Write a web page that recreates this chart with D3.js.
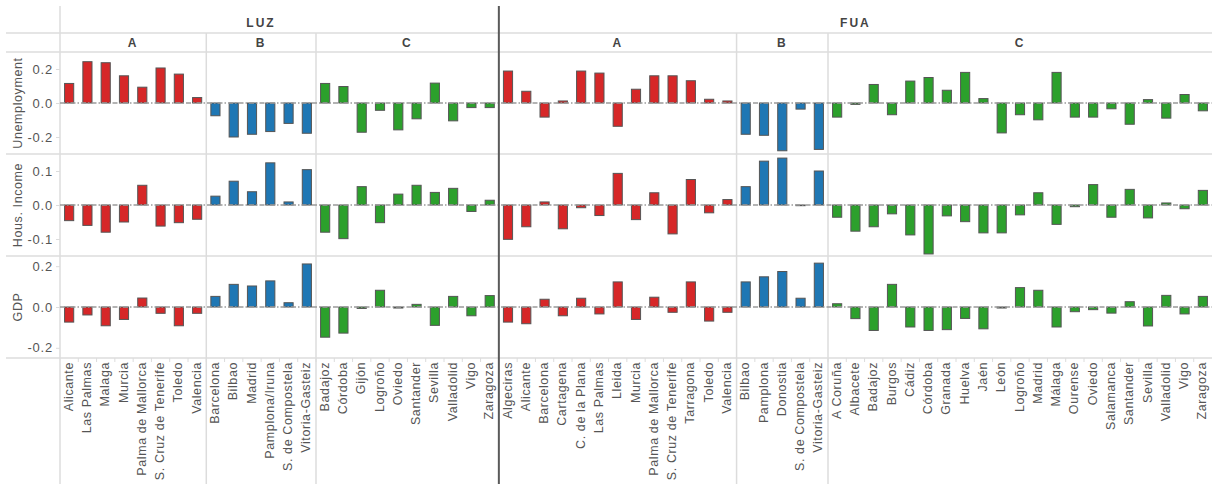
<!DOCTYPE html>
<html><head><meta charset="utf-8">
<script src="https://cdn.jsdelivr.net/npm/d3@7"></script>
<style>body{margin:0;background:#fff}svg{display:block}</style>
</head><body><svg id="chart" width="1212" height="484"></svg>
<script>
// ---------- DATA ----------
const levels = ["LUZ", "FUA"];
const groups = ["A", "B", "C"];
const indicators = ["Unemployment", "Hous. Income", "GDP"];

const luzA = ["Alicante","Las Palmas","Malaga","Murcia","Palma de Mallorca","S. Cruz de Tenerife","Toledo","Valencia"];
const luzB = ["Barcelona","Bilbao","Madrid","Pamplona/Iruna","S. de Compostela","Vitoria-Gasteiz"];
const luzC = ["Badajoz","Córdoba","Gijón","Logroño","Oviedo","Santander","Sevilla","Valladolid","Vigo","Zaragoza"];
const fuaA = ["Algeciras","Alicante","Barcelona","Cartagena","C. de la Plana","Las Palmas","Lleida","Murcia","Palma de Mallorca","S. Cruz de Tenerife","Tarragona","Toledo","Valencia"];
const fuaB = ["Bilbao","Pamplona","Donostia","S. de Compostela","Vitoria-Gasteiz"];
const fuaC = ["A Coruña","Albacete","Badajoz","Burgos","Cádiz","Córdoba","Granada","Huelva","Jaén","León","Logroño","Madrid","Málaga","Ourense","Oviedo","Salamanca","Santander","Sevilla","Valladolid","Vigo","Zaragoza"];

const unemploymentLUZ = [0.115,0.243,0.237,0.16,0.093,0.206,0.17,0.032,
  -0.075,-0.2,-0.184,-0.168,-0.12,-0.178,
  0.115,0.097,-0.172,-0.043,-0.158,-0.093,0.117,-0.105,-0.027,-0.027];
const unemploymentFUA = [0.188,0.069,-0.083,0.012,0.188,0.176,-0.137,0.081,0.16,0.16,0.131,0.022,0.012,
  -0.184,-0.19,-0.281,-0.036,-0.273,
  -0.083,-0.008,0.109,-0.069,0.129,0.15,0.075,0.18,0.026,-0.176,-0.069,-0.099,0.18,-0.083,-0.083,-0.034,-0.125,0.02,-0.089,0.05,-0.046];

const incomeLUZ = [-0.046,-0.06,-0.08,-0.05,0.058,-0.062,-0.052,-0.042,
  0.026,0.07,0.039,0.124,0.009,0.104,
  -0.08,-0.099,0.054,-0.052,0.032,0.058,0.037,0.049,-0.019,0.014];
const incomeFUA = [-0.101,-0.064,0.009,-0.07,-0.008,-0.031,0.093,-0.043,0.036,-0.085,0.075,-0.023,0.016,
  0.054,0.129,0.138,-0.002,0.1,
  -0.036,-0.077,-0.064,-0.026,-0.088,-0.144,-0.032,-0.049,-0.082,-0.082,-0.029,0.036,-0.057,-0.005,0.06,-0.036,0.046,-0.038,0.006,-0.011,0.043];

const gdpLUZ = [-0.074,-0.039,-0.092,-0.061,0.044,-0.031,-0.092,-0.031,
  0.052,0.111,0.103,0.128,0.021,0.211,
  -0.148,-0.128,-0.007,0.082,-0.005,0.013,-0.09,0.052,-0.043,0.056];
const gdpFUA = [-0.074,-0.082,0.038,-0.043,0.043,-0.034,0.123,-0.061,0.048,-0.026,0.123,-0.069,-0.026,
  0.123,0.148,0.174,0.043,0.215,
  0.016,-0.057,-0.115,0.111,-0.098,-0.115,-0.111,-0.056,-0.107,-0.005,0.095,0.082,-0.098,-0.023,-0.013,-0.03,0.026,-0.093,0.057,-0.034,0.052];

const unemploymentTicks = [-0.2, 0.0, 0.2];
const incomeTicks = [-0.1, 0.0, 0.1];
const gdpTicks = [-0.2, 0.0, 0.2];
const unemploymentDomain = [-0.3, 0.3];
const incomeDomain = [-0.15, 0.15];
const gdpDomain = [-0.25, 0.25];

const groupColors = {A: "#d62728", B: "#1f77b4", C: "#2ca02c"};

// ---------- BUILD ----------
const cityLists = {LUZ: [luzA, luzB, luzC], FUA: [fuaA, fuaB, fuaC]};
const valueLists = [
  {LUZ: unemploymentLUZ, FUA: unemploymentFUA},
  {LUZ: incomeLUZ, FUA: incomeFUA},
  {LUZ: gdpLUZ, FUA: gdpFUA}
];
const tickLists = [unemploymentTicks, incomeTicks, gdpTicks];
const domainLists = [unemploymentDomain, incomeDomain, gdpDomain];

const cats = [];
levels.forEach(lv => {
  let k = 0;
  cityLists[lv].forEach((list, gi) => {
    list.forEach(city => {
      cats.push({key: lv + "|" + groups[gi] + "|" + city, level: lv, group: groups[gi], city, idx: k++});
    });
  });
});

// ---------- LAYOUT ----------
const W = 1212, H = 484;
const plotL = 60, plotR = 1212;
const leftEdge = 6, topEdge = 6;
const levelLineY = 33, groupLineY = 52;
const rowH = 102;
const rowTops = [52, 154, 256];
const plotBottom = rowTops[2] + rowH;
const FONT = "'Liberation Sans', Arial, Helvetica, sans-serif";
const gridCol = "#dcdcdc";

const svg = d3.select("#chart");
svg.append("rect").attr("width", W).attr("height", H).attr("fill", "#fff");

const x = d3.scaleBand().domain(cats.map(d => d.key)).range([plotL, plotR])
  .paddingInner(0.5).paddingOuter(0.25);
const step = x.step();
const bound = key => x(key) - step * 0.25;

const fmtLocale = d3.formatLocale({decimal: ".", thousands: ",", grouping: [3], currency: ["", ""], minus: "-"});
const fmt = fmtLocale.format(".1f");

// grid lines: horizontal
const hLines = [levelLineY, groupLineY, rowTops[1], rowTops[2], plotBottom];
svg.append("g").selectAll("line").data(hLines).join("line")
  .attr("x1", leftEdge).attr("x2", plotR).attr("y1", d => d).attr("y2", d => d)
  .attr("stroke", gridCol).attr("stroke-width", 1.5);

// vertical: left plot edge
svg.append("line").attr("x1", plotL).attr("x2", plotL).attr("y1", topEdge).attr("y2", H)
  .attr("stroke", gridCol).attr("stroke-width", 1.5);

// group separators
const groupStarts = [];
levels.forEach(lv => {
  groups.forEach((g, gi) => {
    const members = cats.filter(c => c.level === lv && c.group === g);
    groupStarts.push({level: lv, group: g, first: members[0], last: members[members.length - 1], gi});
  });
});
svg.append("g").selectAll("line").data(groupStarts.filter(d => d.gi > 0)).join("line")
  .attr("x1", d => bound(d.first.key)).attr("x2", d => bound(d.first.key))
  .attr("y1", levelLineY).attr("y2", H)
  .attr("stroke", gridCol).attr("stroke-width", 1.5);

// x tick marks at category boundaries
svg.append("g").selectAll("line").data(cats.filter(c => c.idx > 0)).join("line")
  .attr("x1", d => bound(d.key)).attr("x2", d => bound(d.key))
  .attr("y1", plotBottom).attr("y2", plotBottom + 4)
  .attr("stroke", gridCol).attr("stroke-width", 1);

// rows
indicators.forEach((ind, ri) => {
  const top = rowTops[ri], bottom = top + rowH;
  const y = d3.scaleLinear().domain(domainLists[ri]).range([bottom, top]);
  const g = svg.append("g");
  const data = cats.map(c => ({...c, v: valueLists[ri][c.level][cats.filter(d => d.level === c.level).indexOf(c)]}));
  g.selectAll("rect").data(data).join("rect")
    .attr("x", d => x(d.key))
    .attr("width", x.bandwidth())
    .attr("y", d => y(Math.max(0, d.v)))
    .attr("height", d => Math.abs(y(d.v) - y(0)))
    .attr("fill", d => groupColors[d.group])
    .attr("stroke", "#555").attr("stroke-width", 1);
  // zero line
  g.append("line").attr("x1", plotL).attr("x2", plotR).attr("y1", y(0)).attr("y2", y(0))
    .attr("stroke", "#9a9a9a").attr("stroke-width", 1.5).attr("stroke-dasharray", "5,2,1.5,2");
  // y axis
  const ax = svg.append("g").attr("transform", `translate(${plotL},0)`)
    .call(d3.axisLeft(y).tickValues(tickLists[ri]).tickFormat(fmt).tickSize(4).tickPadding(3));
  ax.select(".domain").remove();
  ax.selectAll(".tick line").attr("stroke", gridCol);
  ax.selectAll(".tick text").attr("fill", "#555").style("font-family", FONT)
    .style("font-size", "13px").style("letter-spacing", "0.8px");
  // title
  svg.append("text").attr("transform", `translate(22,${(top + bottom) / 2}) rotate(-90)`)
    .attr("text-anchor", "middle").attr("fill", "#555")
    .style("font-family", FONT).style("font-size", "12.5px").style("letter-spacing", "0.6px")
    .text(ind);
});

// LUZ/FUA thick separator
const fuaFirst = cats.find(c => c.level === "FUA");
svg.append("line").attr("x1", bound(fuaFirst.key)).attr("x2", bound(fuaFirst.key))
  .attr("y1", topEdge).attr("y2", H).attr("stroke", "#5a5a5a").attr("stroke-width", 2);

// x axis labels
const xa = svg.append("g").attr("transform", `translate(0,${plotBottom})`)
  .call(d3.axisBottom(x).tickSize(0).tickFormat(k => cats.find(c => c.key === k).city));
xa.select(".domain").remove();
xa.selectAll(".tick text")
  .attr("transform", "rotate(-90)").attr("text-anchor", "end")
  .attr("x", -4).attr("y", 3.5).attr("dy", 0)
  .attr("fill", "#555").style("font-family", FONT).style("font-size", "12.5px").style("letter-spacing", "0.6px");

// headers
const levelCenters = {LUZ: 261, FUA: (bound(fuaFirst.key) + plotR) / 2};
svg.append("g").selectAll("text").data(levels).join("text")
  .attr("x", d => levelCenters[d]).attr("y", 26.5).attr("text-anchor", "middle")
  .attr("fill", "#444").style("font-family", FONT).style("font-weight", "bold")
  .style("font-size", "12px").style("letter-spacing", "2px")
  .text(d => d);
svg.append("g").selectAll("text").data(groupStarts).join("text")
  .attr("x", d => (bound(d.first.key) + bound(d.last.key) + step) / 2).attr("y", 46.5)
  .attr("text-anchor", "middle")
  .attr("fill", "#444").style("font-family", FONT).style("font-weight", "bold")
  .style("font-size", "12px").style("letter-spacing", "2px")
  .text(d => d.group);
</script></body></html>
